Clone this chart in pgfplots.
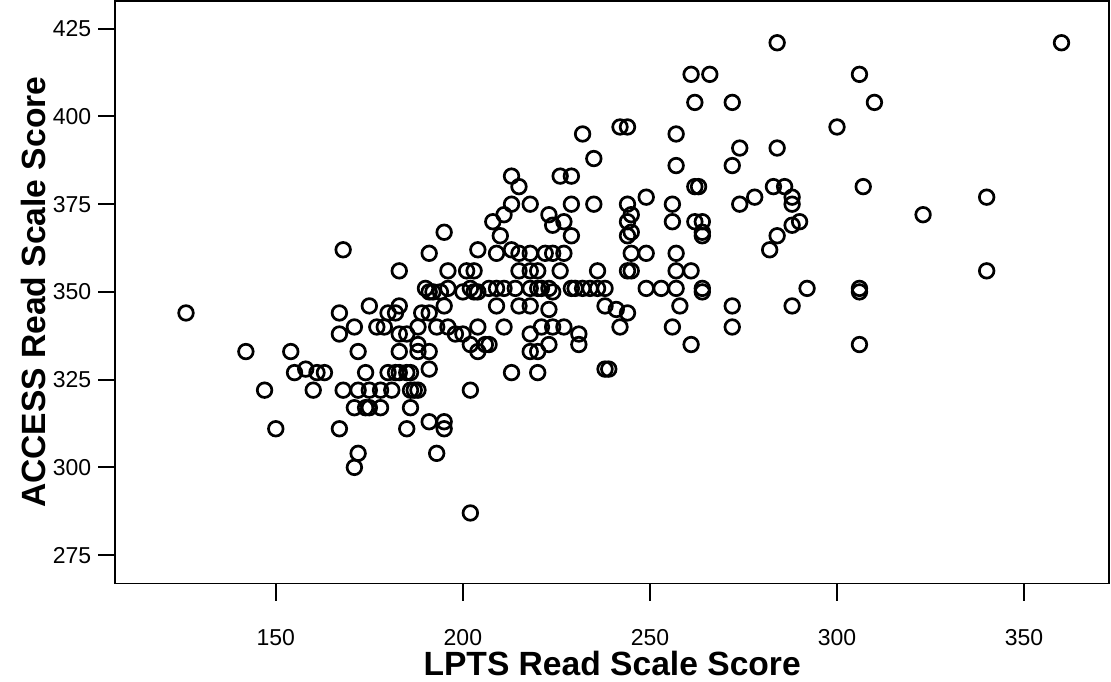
\documentclass[border=0pt]{standalone}
\usepackage{fontspec}
\setmainfont{Liberation Sans}
\usepackage{pgfplots}
\pgfplotsset{compat=1.18}

\begin{document}
\begin{tikzpicture}
% 1 px of the reference = 0.5pt
\useasboundingbox (-57.65pt,-48.75pt) rectangle (497.85pt,291.75pt);
\begin{axis}[
    scale only axis,
    width=496.85pt, height=291.25pt,
    xmin=107.1, xmax=372.7,
    ymin=266.9, ymax=432.9,
    xtick={150,200,...,350},
    ytick={275,300,...,425},
    tick pos=left,
    tick align=outside,
    major tick length=8.5pt,
    every tick/.style={black, line width=1pt},
    axis line style={line width=0.8pt},
    /pgf/number format/assume math mode=true,
    ticklabel style={font=\fontsize{11.5}{13}\selectfont},
    xticklabel style={yshift=-11pt},
    xlabel={LPTS Read Scale Score},
    ylabel={ACCESS Read Scale Score},
    label style={font=\fontsize{16.8}{20}\selectfont\bfseries},
    xlabel style={at={(axis description cs:0.5,0)}, anchor=center, yshift=-39.75pt},
    ylabel style={at={(axis description cs:0,0.5)}, anchor=center, rotate=0, yshift=41.15pt},
]
\addplot[only marks, mark=o, mark size=3.65pt, line width=1.35pt, black] coordinates {
(126,344) (142,333) (147,322) (150,311) (154,333) (155,327) (158,328) (160,322)
(161,327) (163,327) (167,344) (167,338) (167,311) (168,362) (168,322) (171,340)
(171,317) (171,300) (172,333) (172,322) (172,304) (174,327) (174,317) (175,346)
(175,322) (175,317) (177,340) (178,322) (178,317) (179,340) (180,344) (180,327)
(181,322) (182,344) (182,327) (183,356) (183,346) (183,338) (183,333) (183,327)
(185,338) (185,327) (186,317) (185,311) (186,327) (186,322) (187,322) (188,322)
(188,340) (188,335) (188,333) (189,344) (190,351) (191,350) (191,344) (191,333)
(191,328) (191,361) (191,313) (192,350) (193,340) (193,304) (194,350) (195,367)
(195,346) (195,313) (195,311) (196,356) (196,351) (196,340) (198,338) (200,350)
(200,338) (201,356) (202,351) (202,335) (202,322) (202,287) (203,356) (203,350)
(204,362) (204,350) (204,340) (204,333) (206,335) (207,335) (207,351) (208,370)
(209,361) (209,351) (209,346) (210,366) (211,372) (211,351) (211,340) (213,383)
(213,375) (213,362) (214,351) (213,327) (215,380) (215,361) (215,356) (215,346)
(218,375) (218,361) (218,356) (218,351) (218,346) (218,338) (218,333) (220,356)
(220,351) (220,333) (220,327) (221,351) (223,351) (224,350) (221,340) (223,335)
(222,361) (223,372) (223,345) (224,369) (224,361) (224,340) (226,383) (226,356)
(227,370) (227,361) (227,340) (229,383) (229,375) (229,366) (229,351) (230,351)
(231,338) (231,335) (232,351) (232,395) (234,351) (235,388) (235,375) (236,356)
(236,351) (238,351) (238,346) (238,328) (239,328) (241,345) (242,397) (242,340)
(244,397) (244,375) (244,370) (244,366) (244,356) (244,344) (245,372) (245,367)
(245,361) (245,356) (249,377) (249,361) (249,351) (253,351) (256,375) (256,370)
(256,340) (257,395) (257,386) (257,361) (257,356) (257,351) (258,346) (261,412)
(261,356) (261,335) (262,404) (262,380) (262,370) (263,380) (264,351) (264,350)
(264,370) (264,367) (264,366) (266,412) (272,404) (272,386) (272,346) (272,340)
(274,391) (274,375) (278,377) (282,362) (283,380) (284,421) (284,391) (284,366)
(286,380) (288,377) (288,375) (288,369) (288,346) (290,370) (292,351) (300,397)
(306,412) (306,351) (306,350) (306,335) (307,380) (310,404) (323,372) (340,377)
(340,356) (360,421)
};
\end{axis}
\end{tikzpicture}
\end{document}
